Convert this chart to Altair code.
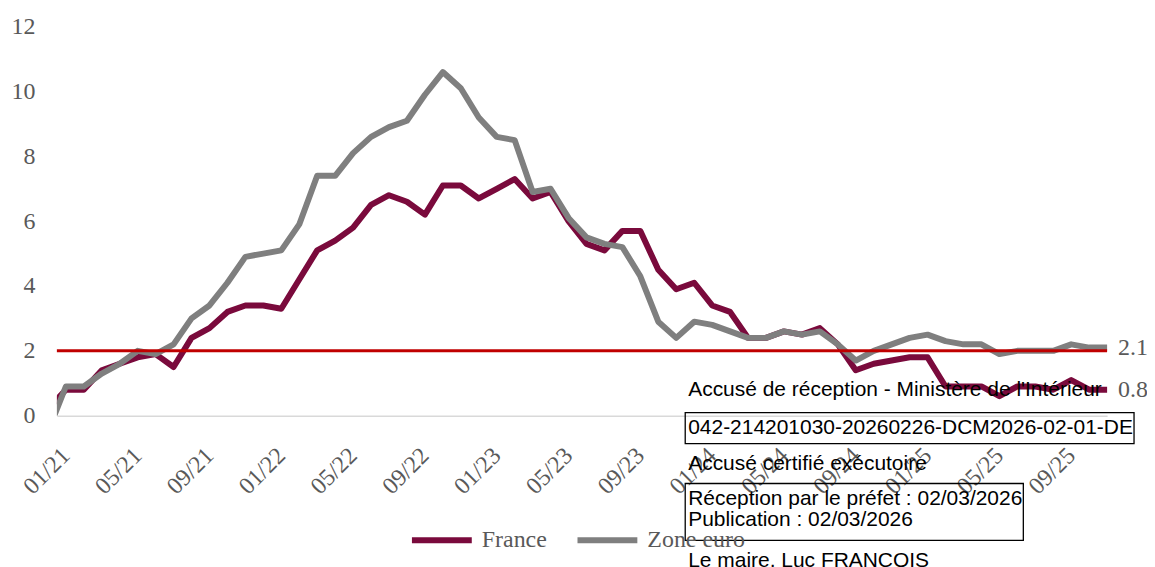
import altair as alt
import pandas as pd

# ---- data (annual inflation, %) ----
# month index: -1 = 12/20, 0 = 01/21 ... 58 = 11/25
month_index = list(range(-1, 59))
france = [0.2,
          0.8, 0.8, 1.4, 1.6, 1.8, 1.9, 1.5, 2.4, 2.7, 3.2, 3.4, 3.4,
          3.3, 4.2, 5.1, 5.4, 5.8, 6.5, 6.8, 6.6, 6.2, 7.1, 7.1, 6.7,
          7.0, 7.3, 6.7, 6.9, 6.0, 5.3, 5.1, 5.7, 5.7, 4.5, 3.9, 4.1,
          3.4, 3.2, 2.4, 2.4, 2.6, 2.5, 2.7, 2.2, 1.4, 1.6, 1.7, 1.8,
          1.8, 0.9, 0.9, 0.9, 0.6, 0.9, 0.9, 0.8, 1.1, 0.8, 0.8]
zone_euro = [-0.5,
             0.9, 0.9, 1.3, 1.6, 2.0, 1.9, 2.2, 3.0, 3.4, 4.1, 4.9, 5.0,
             5.1, 5.9, 7.4, 7.4, 8.1, 8.6, 8.9, 9.1, 9.9, 10.6, 10.1, 9.2,
             8.6, 8.5, 6.9, 7.0, 6.1, 5.5, 5.3, 5.2, 4.3, 2.9, 2.4, 2.9,
             2.8, 2.6, 2.4, 2.4, 2.6, 2.5, 2.6, 2.2, 1.7, 2.0, 2.2, 2.4,
             2.5, 2.3, 2.2, 2.2, 1.9, 2.0, 2.0, 2.0, 2.2, 2.1, 2.1]
series_names = ["France", "Zone euro"]
series_colors = ["#7A0A3C", "#7F7F7F"]
tick_values = list(range(0, 57, 4))
tick_labels = ["01/21", "05/21", "09/21", "01/22", "05/22", "09/22", "01/23",
               "05/23", "09/23", "01/24", "05/24", "09/24", "01/25", "05/25", "09/25"]
y_ticks = [0, 2, 4, 6, 8, 10, 12]
target = [2]
stamp_lines = [
    "Accusé de réception - Ministère de l'Intérieur",
    "042-214201030-20260226-DCM2026-02-01-DE",
    "Accusé certifié exécutoire",
    "Réception par le préfet : 02/03/2026",
    "Publication : 02/03/2026",
    "Le maire, Luc FRANÇOIS",
]

rows = []
for name, vals in zip(series_names, [france, zone_euro]):
    for m, v in zip(month_index, vals):
        rows.append({"m": m, "v": v, "serie": name})
df = pd.DataFrame(rows)
last = df[df["m"] == max(month_index)]

SERIF = "Liberation Serif"
SANS = "Liberation Sans"
GREY = "#595959"

label_expr = "[" + ",".join("'%s'" % t for t in tick_labels) + "][datum.value / 4]"

x_enc = alt.X("m:Q",
              scale=alt.Scale(domain=[-0.5, 58], nice=False, zero=False),
              axis=alt.Axis(values=tick_values, labelExpr=label_expr, labelAngle=-45,
                            labelAlign="right", labelBaseline="middle", labelPadding=36,
                            labelFont=SERIF, labelFontSize=24, labelColor=GREY,
                            ticks=False, grid=False, domainColor="#D9D9D9", domainWidth=1.5,
                            title=None, labelOverlap=False))
y_enc = alt.Y("v:Q",
              scale=alt.Scale(domain=[0, 12], nice=False),
              axis=alt.Axis(values=y_ticks, domain=False, ticks=False, grid=False,
                            labelPadding=22, labelFont=SERIF, labelFontSize=24,
                            labelColor=GREY, title=None))

# stamp (annotation overlay)
def stamp_text(txt, x, y):
    return alt.Chart(pd.DataFrame({"s": [txt]})).mark_text(
        align="left", baseline="middle", font=SANS, fontSize=21, color="#000000"
    ).encode(text="s:N", x=alt.value(x), y=alt.value(y))

def stamp_box(x, x2, y, y2):
    return alt.Chart(pd.DataFrame({"s": [0]})).mark_rect(
        fillOpacity=0, stroke="#000000", strokeWidth=1.3
    ).encode(x=alt.value(x), x2=alt.value(x2), y=alt.value(y), y2=alt.value(y2))

stamp = [
    stamp_text(stamp_lines[0], 633, 364),
    stamp_box(630, 1080, 387, 418),
    stamp_text(stamp_lines[1], 633, 402),
    stamp_text(stamp_lines[2], 633, 438),
    stamp_box(630, 969, 458, 515),
    stamp_text(stamp_lines[3], 633, 474),
    stamp_text(stamp_lines[4], 633, 495),
    stamp_text(stamp_lines[5], 633, 536),
]

lines = alt.Chart(df).mark_line(strokeWidth=6, strokeJoin="round", strokeCap="round",
                                clip=True).encode(
    x=x_enc, y=y_enc,
    color=alt.Color("serie:N",
                    scale=alt.Scale(domain=series_names, range=series_colors),
                    legend=alt.Legend(orient="none", legendX=353, legendY=482,
                                      direction="horizontal", title=None,
                                      symbolType="stroke", symbolSize=3600,
                                      symbolStrokeWidth=6, labelFont=SERIF,
                                      labelFontSize=24, labelColor=GREY,
                                      labelOffset=7, columnPadding=18, padding=0)),
)

rule = alt.Chart(pd.DataFrame({"t": target})).mark_rule(color="#C00000", strokeWidth=3).encode(
    y=alt.Y("t:Q", title=None)
)

end_labels = alt.Chart(last).mark_text(align="left", baseline="middle", dx=11,
                                       font=SERIF, fontSize=24, color=GREY).encode(
    x="m:Q", y="v:Q", text=alt.Text("v:Q", format=".1f")
)

chart = alt.layer(lines, rule, end_labels, *stamp).properties(
    width=1053, height=390,
    background="white",
    autosize=alt.AutoSizeParams(type="none"),
    padding={"left": 49, "top": 18, "right": 40, "bottom": 151},
).configure_view(stroke=None)

chart.save("out.html", embed_options={"renderer": "svg", "actions": False})
